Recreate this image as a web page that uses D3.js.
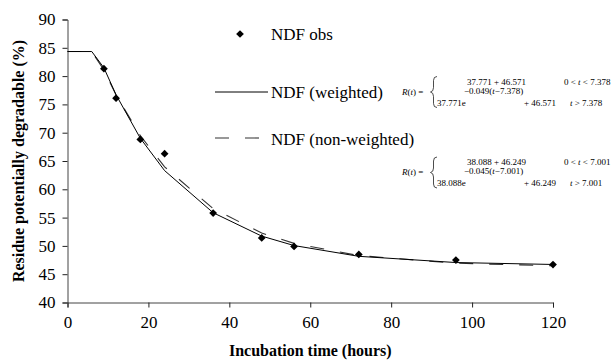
<!DOCTYPE html>
<html>
<head>
<meta charset="utf-8">
<script src="https://cdn.jsdelivr.net/npm/d3@7"></script>
<style>
  body { margin: 0; background: #fff; }
  svg { display: block; font-family: "Liberation Serif", "Times New Roman", serif; }
</style>
</head>
<body>
<svg id="chart" width="613" height="363"></svg>
<script>
// observed NDF residue (%)
const obsTimes = [9, 12, 18, 24, 36, 48, 56, 72, 96, 120];
const obsValues = [81.3, 76.1, 68.8, 66.3, 55.8, 51.4, 49.9, 48.5, 47.5, 46.7];

// fitted curves, read at the plotted times
const fitTimes = [0, 6, 9, 12, 18, 24, 36, 48, 56, 72, 96, 120];
const weighted = [84.34, 84.34, 81.46, 76.69, 69.02, 63.30, 55.86, 51.73, 50.06, 48.16, 47.06, 46.72];
const nonWeighted = [84.34, 84.34, 81.06, 76.66, 69.47, 63.97, 56.58, 52.27, 50.45, 48.29, 46.94, 46.49];

const xTicks = [0, 20, 40, 60, 80, 100, 120];
const yTicks = [40, 45, 50, 55, 60, 65, 70, 75, 80, 85, 90];

const legendLabels = ['NDF obs', 'NDF (weighted)', 'NDF (non-weighted)'];

// model equation text: [a, c, rate, lag]
const eqWeighted = ['37.771', '46.571', '0.049', '7.378'];
const eqNonWeighted = ['38.088', '46.249', '0.045', '7.001'];

const svg = d3.select('#chart');

const x = d3.scaleLinear().domain([0, 120]).range([67.5, 553]);
const y = d3.scaleLinear().domain([40, 90]).range([302.5, 19.5]);

// axes
const xAxis = svg.append('g')
  .attr('transform', `translate(0,${y(40)})`)
  .call(d3.axisBottom(x).tickValues(xTicks).tickSize(5).tickPadding(8));
const yAxis = svg.append('g')
  .attr('transform', `translate(${x(0)},0)`)
  .call(d3.axisLeft(y).tickValues(yTicks).tickSize(5).tickPadding(7));

[xAxis, yAxis].forEach(g => {
    g.select('.domain').attr('stroke', '#444');
    g.selectAll('.tick line').attr('stroke', '#222');
    g.selectAll('.tick text')
      .attr('fill', '#000')
      .style('font-family', '"Liberation Serif", serif')
      .style('font-size', '17px');
});

svg.append('text')
  .attr('x', (x(0) + x(120)) / 2)
  .attr('y', 356)
  .attr('text-anchor', 'middle')
  .style('font-size', '16px')
  .style('font-weight', 'bold')
  .text('Incubation time (hours)');

svg.append('text')
  .attr('transform', `translate(24,${(y(40) + y(90)) / 2}) rotate(-90)`)
  .attr('text-anchor', 'middle')
  .style('font-size', '16px')
  .style('font-weight', 'bold')
  .text('Residue potentially degradable (%)');

// fitted lines
const line = d3.line()
  .x((d, i) => x(fitTimes[i]))
  .y(d => y(d));

svg.append('path')
  .datum(nonWeighted)
  .attr('fill', 'none')
  .attr('stroke', '#333')
  .attr('stroke-width', 1.1)
  .attr('stroke-dasharray', '14,16')
  .attr('d', line);

svg.append('path')
  .datum(weighted)
  .attr('fill', 'none')
  .attr('stroke', '#000')
  .attr('stroke-width', 1)
  .attr('d', line);

// observed points
const diamond = d3.symbol().type(d3.symbolSquare).size(30);
svg.append('g')
  .selectAll('path')
  .data(obsValues)
  .join('path')
  .attr('d', diamond)
  .attr('transform', (d, i) => `translate(${x(obsTimes[i])},${y(d)}) rotate(45)`)
  .attr('fill', '#000');

// legend
const legend = svg.append('g');
legend.append('path')
  .attr('d', diamond)
  .attr('transform', 'translate(240,34) rotate(45)')
  .attr('fill', '#000');
legend.append('line')
  .attr('x1', 215).attr('x2', 268).attr('y1', 92).attr('y2', 92)
  .attr('stroke', '#000');
legend.append('line')
  .attr('x1', 215).attr('x2', 268).attr('y1', 138).attr('y2', 138)
  .attr('stroke', '#333').attr('stroke-width', 1.1)
  .attr('stroke-dasharray', '14,16');
legend.selectAll('text')
  .data(legendLabels)
  .join('text')
  .attr('x', 271)
  .attr('y', (d, i) => [40, 98, 145][i])
  .style('font-size', '17px')
  .text(d => d);

// piecewise equations
function drawEquation(top, [a, c, k, lag]) {
    const g = svg.append('g').style('font-size', '9px');
    const row1 = top + 3, rowR = top + 13, rowExp = top + 12, row2 = top + 24;

    const r = g.append('text').attr('x', 402).attr('y', rowR);
    r.append('tspan').style('font-style', 'italic').text('R');
    r.append('tspan').text('(');
    r.append('tspan').style('font-style', 'italic').text('t');
    r.append('tspan').text(') =');

    g.append('path')
      .attr('d', `M437,${top - 5} q-3.5,0 -3.5,4 v7 q0,4 -3,4.5 q3,0.5 3,4.5 v7 q0,4 3.5,4`)
      .attr('fill', 'none')
      .attr('stroke', '#000')
      .attr('stroke-width', 0.7);

    g.append('text').attr('x', 467).attr('y', row1).text(`${a} + ${c}`);
    const cond1 = g.append('text').attr('x', 564).attr('y', row1);
    cond1.append('tspan').text('0 < ');
    cond1.append('tspan').style('font-style', 'italic').text('t');
    cond1.append('tspan').text(` < ${lag}`);

    g.append('text').attr('x', 437).attr('y', row2).text(`${a}e`);
    const ex = g.append('text').attr('x', 464).attr('y', rowExp);
    ex.append('tspan').text(`\u2212${k}(`);
    ex.append('tspan').style('font-style', 'italic').text('t');
    ex.append('tspan').text(`\u2212${lag})`);
    g.append('text').attr('x', 524).attr('y', row2).text(`+ ${c}`);
    const cond2 = g.append('text').attr('x', 570).attr('y', row2);
    cond2.append('tspan').style('font-style', 'italic').text('t');
    cond2.append('tspan').text(` > ${lag}`);
}

drawEquation(81.5, eqWeighted);
drawEquation(162, eqNonWeighted);
</script>
</body>
</html>
